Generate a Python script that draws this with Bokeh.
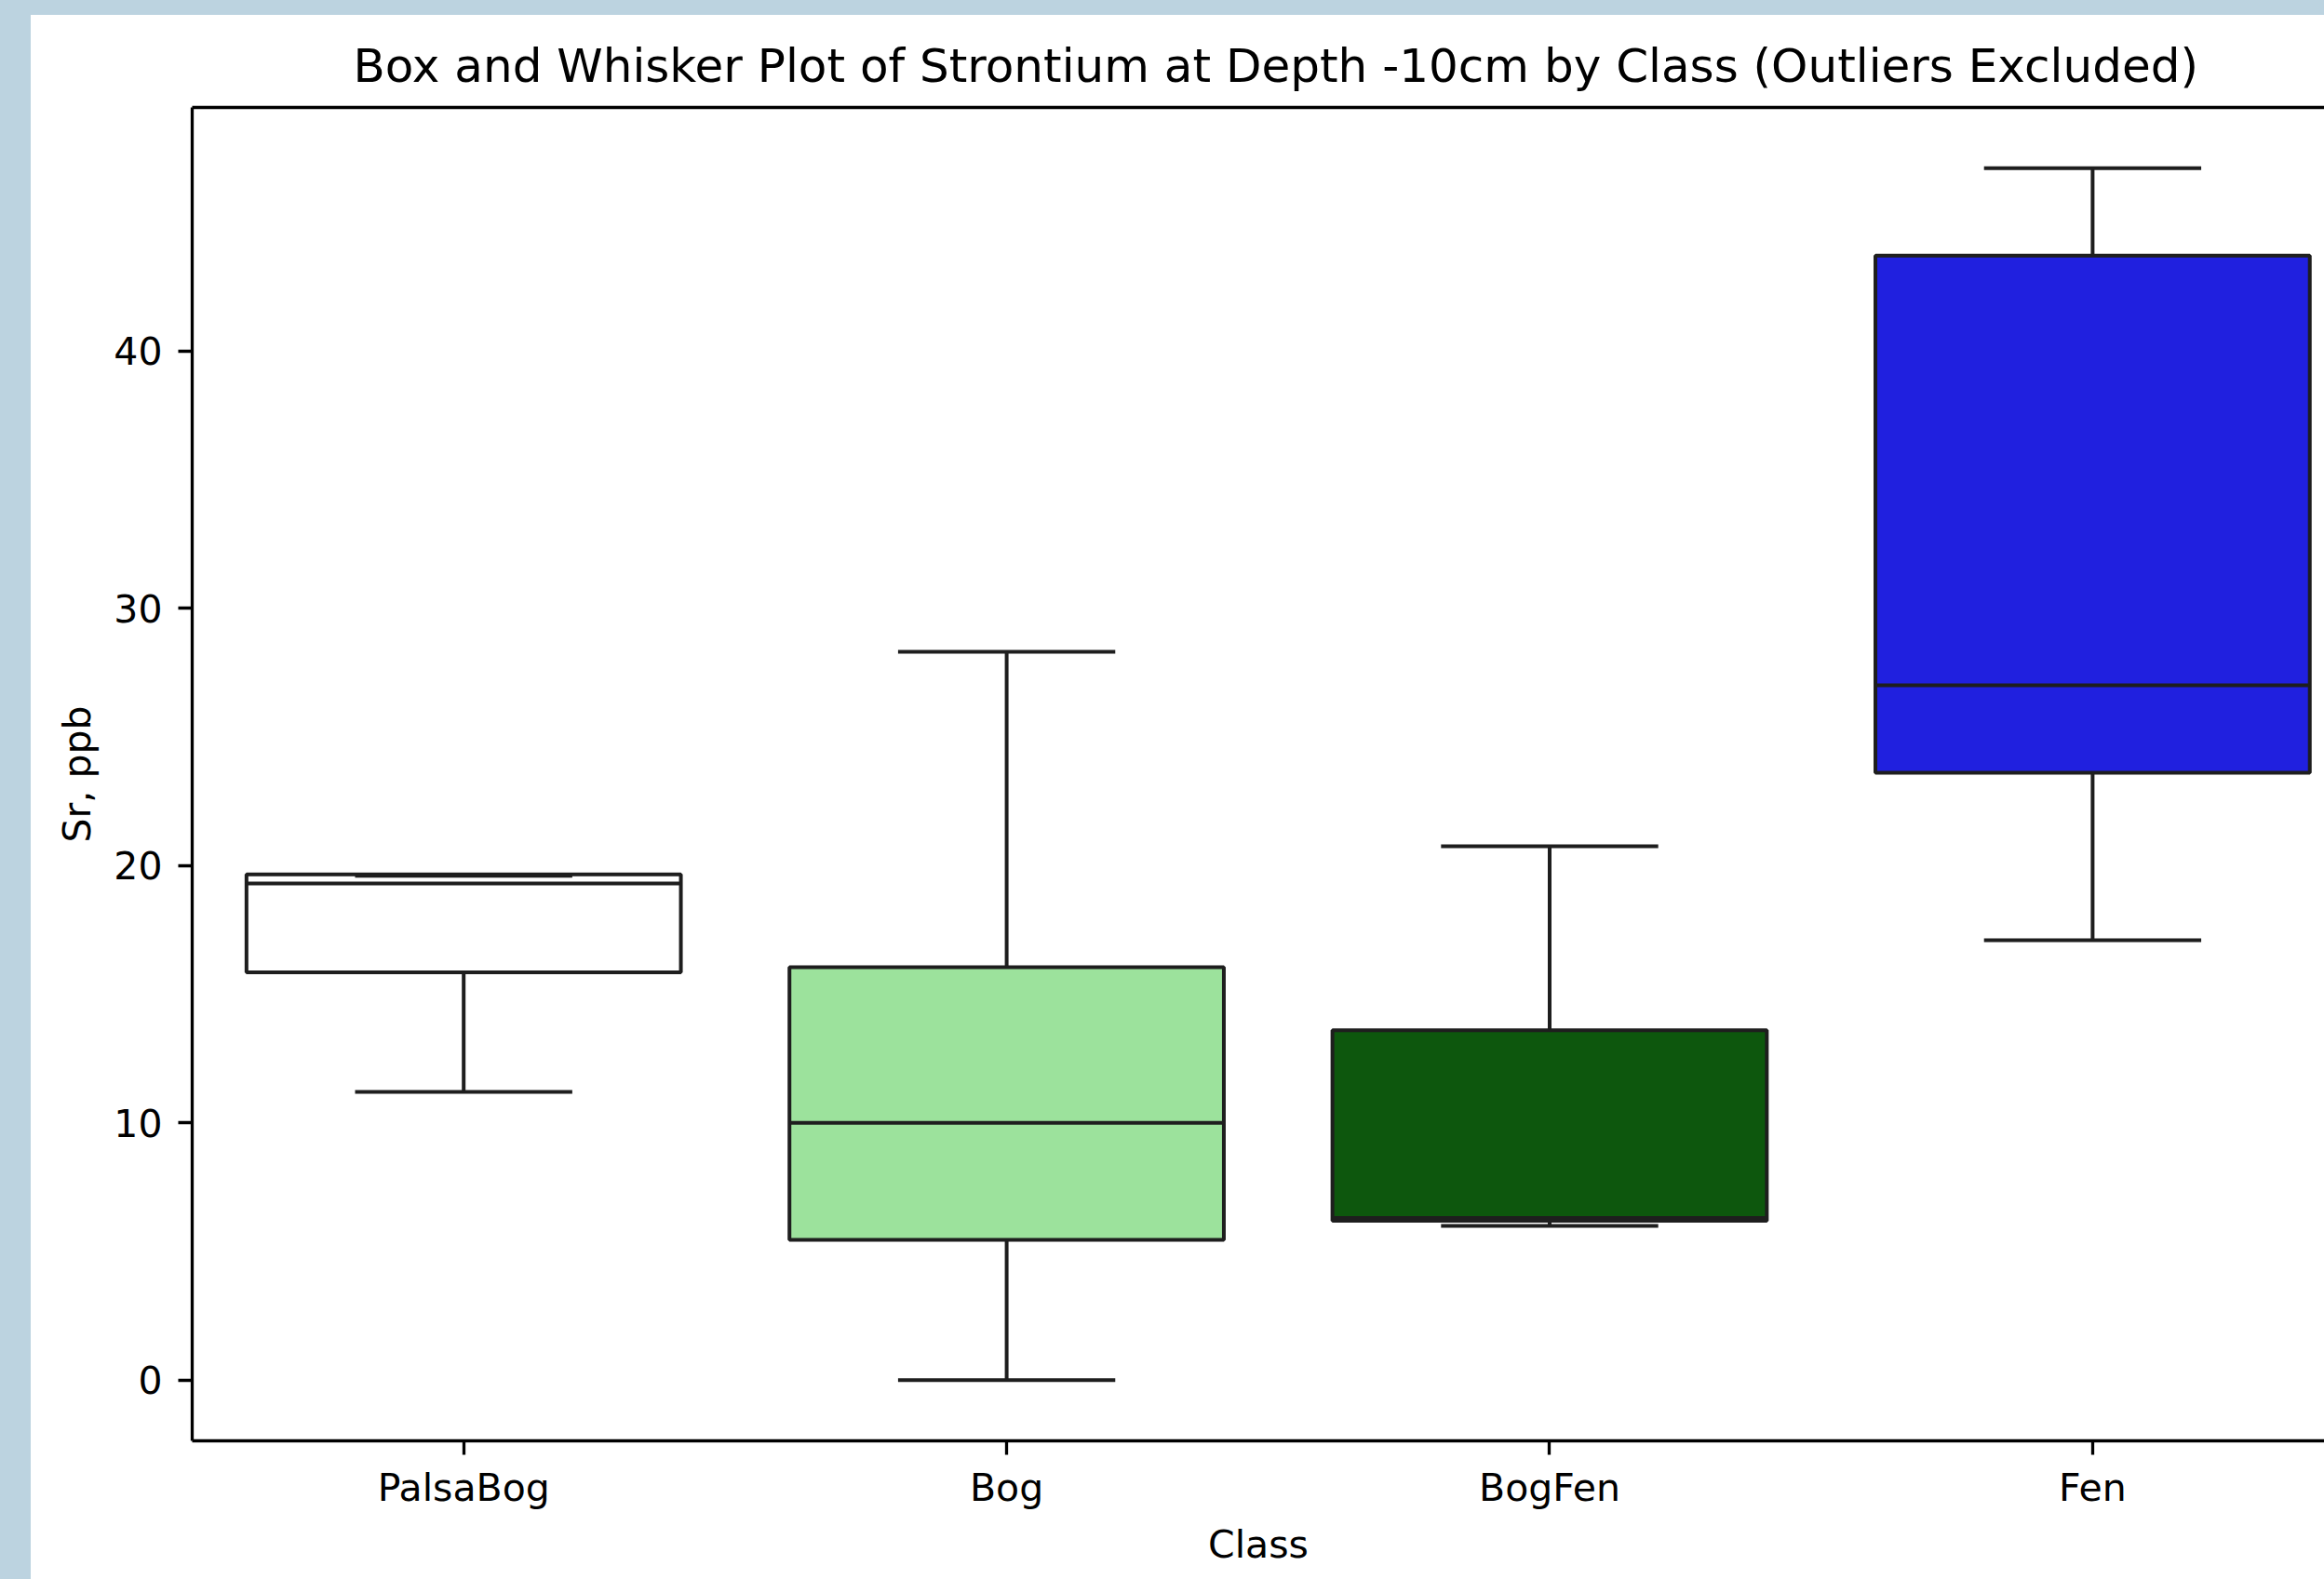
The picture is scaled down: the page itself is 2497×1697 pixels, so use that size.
from bokeh.plotting import figure
from bokeh.models import Range1d, FixedTicker, LinearAxis, Spacer, ColumnDataSource
from bokeh.layouts import row, column
from bokeh.embed import file_html
from bokeh.resources import INLINE

# ---- data ----
categories = ["PalsaBog", "Bog", "BogFen", "Fen"]
whisker_low = [11.2, 0.0, 6.0, 17.1]
q1 = [15.85, 5.45, 6.2, 23.6]
median = [19.3, 10.0, 6.3, 27.0]
q3 = [19.65, 16.05, 13.6, 43.7]
whisker_high = [19.6, 28.3, 20.75, 47.1]
box_colors = ["#ffffff", "#9ce29c", "#0d570d", "#2020df"]
y_ticks = [0, 10, 20, 30, 40]

positions = list(range(len(categories)))
box_w = 0.8
cap_w = 0.4

src = ColumnDataSource(dict(
    x=positions,
    x0=[x - box_w / 2 for x in positions],
    x1=[x + box_w / 2 for x in positions],
    c0=[x - cap_w / 2 for x in positions],
    c1=[x + cap_w / 2 for x in positions],
    lo=whisker_low, q1=q1, med=median, q3=q3, hi=whisker_high, color=box_colors,
))

FONT = "DejaVu Sans"
LINE = "#1e1e1e"
LW = 4

p = figure(width=2464, height=1681,
           x_range=Range1d(-0.5, 3.427), y_range=Range1d(-2.355, 49.455),
           output_backend="svg", toolbar_location=None,
           min_border_left=173, min_border_right=0, min_border_top=99, min_border_bottom=149,
           x_axis_location=None, y_axis_location=None)
p.outline_line_color = None
p.background_fill_color = "white"
p.border_fill_color = "white"
p.xgrid.visible = False
p.ygrid.visible = False

# whiskers
p.segment(x0="x", y0="lo", x1="x", y1="q1", source=src, line_color=LINE, line_width=LW)
p.segment(x0="x", y0="q3", x1="x", y1="hi", source=src, line_color=LINE, line_width=LW)
# boxes
p.vbar(x="x", width=box_w, bottom="q1", top="q3", source=src, fill_color="color",
       line_color=LINE, line_width=LW)
# medians
p.segment(x0="x0", y0="med", x1="x1", y1="med", source=src, line_color=LINE, line_width=LW)
# caps
p.segment(x0="c0", y0="lo", x1="c1", y1="lo", source=src, line_color=LINE, line_width=LW)
p.segment(x0="c0", y0="hi", x1="c1", y1="hi", source=src, line_color=LINE, line_width=LW)


def style_axis(ax):
    ax.axis_line_color = "black"
    ax.axis_line_width = 3.3
    ax.major_tick_line_color = "black"
    ax.major_tick_line_width = 3.3
    ax.major_tick_out = 15
    ax.major_tick_in = 0
    ax.minor_tick_line_color = None
    ax.major_label_text_font = FONT
    ax.major_label_text_font_size = "41px"
    ax.major_label_text_color = "black"
    ax.axis_label_text_font = FONT
    ax.axis_label_text_font_size = "41px"
    ax.axis_label_text_font_style = "normal"
    ax.axis_label_text_color = "black"


xaxis = LinearAxis(ticker=FixedTicker(ticks=positions),
                   major_label_overrides={i: c for i, c in zip(positions, categories)},
                   axis_label="Class")
style_axis(xaxis)
xaxis.major_label_standoff = 11
xaxis.axis_label_standoff = 10
p.add_layout(xaxis, "below")

yaxis = LinearAxis(ticker=FixedTicker(ticks=y_ticks), axis_label="Sr, ppb")
style_axis(yaxis)
yaxis.major_label_standoff = 17
yaxis.axis_label_standoff = 12
p.add_layout(yaxis, "left")

top_axis = LinearAxis(ticker=FixedTicker(ticks=[]))
top_axis.axis_line_color = "black"
top_axis.axis_line_width = 3.3
top_axis.major_tick_line_color = None
top_axis.minor_tick_line_color = None
top_axis.major_label_text_font_size = "0px"
top_axis.major_label_standoff = 0
p.add_layout(top_axis, "above")

p.title.text = "Box and Whisker Plot of Strontium at Depth -10cm by Class (Outliers Excluded)"
p.title.align = "left"
p.title.offset = 173
p.title.text_font = FONT
p.title.text_font_size = "50px"
p.title.text_font_style = "normal"
p.title.text_color = "black"
p.title.standoff = 32

BLUE = "#bcd3e0"
left_strip = Spacer(width=33, height=1697, styles={"background-color": BLUE})
top_strip = Spacer(width=2464, height=16, styles={"background-color": BLUE})
layout = row(left_strip, column(top_strip, p))

open("out.html", "w").write(file_html(layout, INLINE))
